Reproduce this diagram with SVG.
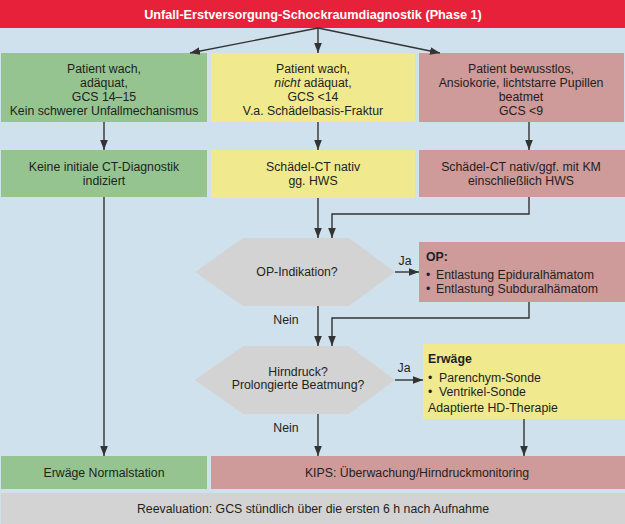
<svg xmlns="http://www.w3.org/2000/svg" width="625" height="524" viewBox="0 0 625 524">
<style>
text{font-family:"Liberation Sans",Arial,sans-serif;font-size:12.3px;fill:#231f20}
.c{text-anchor:middle}
.b{font-weight:bold}
.g{fill:#95c490}
.y{fill:#f0e98e}
.p{fill:#ce9a9a}
.h{fill:#d3d3d3}
.ln{fill:none;stroke:#333;stroke-width:1.4}
</style>
<defs>
<marker id="a" markerUnits="userSpaceOnUse" markerWidth="10" markerHeight="10" viewBox="0 0 10 10" refX="10" refY="5" orient="auto">
<path d="M0,1.2 L10,5 L0,8.8 Z" fill="#333"/>
</marker>
</defs>
<rect x="0" y="0" width="625" height="524" fill="#cfe1ec"/>
<g id="title">
<rect x="0" y="0" width="625" height="28" fill="#e8213a"/>
<text x="313" y="19" class="c b" style="fill:#fff;font-size:12.7px">Unfall-Erstversorgung-Schockraumdiagnostik (Phase 1)</text>
</g>
<g id="n1">
<rect x="1" y="53" width="206" height="69" class="g"/>
<text x="104" y="73" class="c">Patient wach,</text>
<text x="104" y="87" class="c">adäquat,</text>
<text x="104" y="101" class="c">GCS 14–15</text>
<text x="104" y="115" class="c">Kein schwerer Unfallmechanismus</text>
</g>
<g id="n2">
<rect x="211" y="53" width="204" height="69" class="y"/>
<text x="313" y="73" class="c">Patient wach,</text>
<text x="313" y="87" class="c"><tspan font-style="italic">nicht</tspan> adäquat,</text>
<text x="313" y="101" class="c">GCS &lt;14</text>
<text x="313" y="115" class="c">V.a. Schädelbasis-Fraktur</text>
</g>
<g id="n3">
<rect x="419" y="53" width="205" height="69" class="p"/>
<text x="521" y="73" class="c">Patient bewusstlos,</text>
<text x="521" y="87" class="c">Ansiokorie, lichtstarre Pupillen</text>
<text x="521" y="101" class="c">beatmet</text>
<text x="521" y="115" class="c">GCS &lt;9</text>
</g>
<g id="n4">
<rect x="1" y="150" width="206" height="47" class="g"/>
<text x="104" y="171" class="c">Keine initiale CT-Diagnostik</text>
<text x="104" y="185" class="c">indiziert</text>
</g>
<g id="n5">
<rect x="211" y="150" width="204" height="48" class="y"/>
<text x="313" y="171" class="c">Schädel-CT nativ</text>
<text x="313" y="185" class="c">gg. HWS</text>
</g>
<g id="n6">
<rect x="419" y="150" width="206" height="47" class="p"/>
<text x="521" y="171" class="c">Schädel-CT nativ/ggf. mit KM</text>
<text x="521" y="185" class="c">einschließlich HWS</text>
</g>
<g id="d1">
<polygon points="195,272 243,238 349,238 395,272 349,306 243,306" class="h"/>
<text x="297" y="276" class="c">OP-Indikation?</text>
</g>
<g id="n7">
<rect x="419" y="242" width="206" height="60" class="p"/>
<text x="426" y="261" class="b">OP:</text>
<text x="426" y="279">•</text>
<text x="436" y="279">Entlastung Epiduralhämatom</text>
<text x="426" y="293">•</text>
<text x="436" y="293">Entlastung Subduralhämatom</text>
</g>
<g id="d2">
<polygon points="195,380 243,346 349,346 395,380 349,414 243,414" class="h"/>
<text x="298" y="376" class="c">Hirndruck?</text>
<text x="298" y="389" class="c">Prolongierte Beatmung?</text>
</g>
<g id="n8">
<rect x="423" y="344" width="202" height="75" class="y"/>
<text x="428" y="363" class="b">Erwäge</text>
<text x="428" y="382">•</text>
<text x="439" y="382">Parenchym-Sonde</text>
<text x="428" y="396">•</text>
<text x="439" y="396">Ventrikel-Sonde</text>
<text x="428" y="412">Adaptierte HD-Therapie</text>
</g>
<g id="n9">
<rect x="1" y="456" width="206" height="33" class="g"/>
<text x="104" y="477" class="c">Erwäge Normalstation</text>
</g>
<g id="n10">
<rect x="211" y="456" width="414" height="33" class="p"/>
<text x="417" y="477" class="c">KIPS: Überwachung/Hirndruckmonitoring</text>
</g>
<g id="n11">
<rect x="1" y="493" width="624" height="31" class="h"/>
<text x="313" y="513" class="c">Reevaluation: GCS stündlich über die ersten 6 h nach Aufnahme</text>
</g>
<g id="connectors">
<path d="M318,28 L190,53" class="ln" marker-end="url(#a)"/>
<path d="M318,28 V53" class="ln" marker-end="url(#a)"/>
<path d="M318,28 L440,53" class="ln" marker-end="url(#a)"/>
<path d="M104,122 V150" class="ln" marker-end="url(#a)"/>
<path d="M318,122 V150" class="ln" marker-end="url(#a)"/>
<path d="M529,122 V150" class="ln" marker-end="url(#a)"/>
<path d="M104,197 V456" class="ln" marker-end="url(#a)"/>
<path d="M318,198 V238" class="ln" marker-end="url(#a)"/>
<path d="M529,197 V214 H332 V238" class="ln" marker-end="url(#a)"/>
<path d="M395,272 H419" class="ln" marker-end="url(#a)"/>
<path d="M318,306 V346" class="ln" marker-end="url(#a)"/>
<path d="M529,302 V318 H332 V346" class="ln" marker-end="url(#a)"/>
<path d="M395,380 H423" class="ln" marker-end="url(#a)"/>
<path d="M318,414 V456" class="ln" marker-end="url(#a)"/>
<path d="M524,419 V456" class="ln" marker-end="url(#a)"/>
<text x="405" y="265" class="c">Ja</text>
<text x="286" y="324" class="c">Nein</text>
<text x="404" y="372" class="c">Ja</text>
<text x="286" y="432" class="c">Nein</text>
</g>
</svg>
